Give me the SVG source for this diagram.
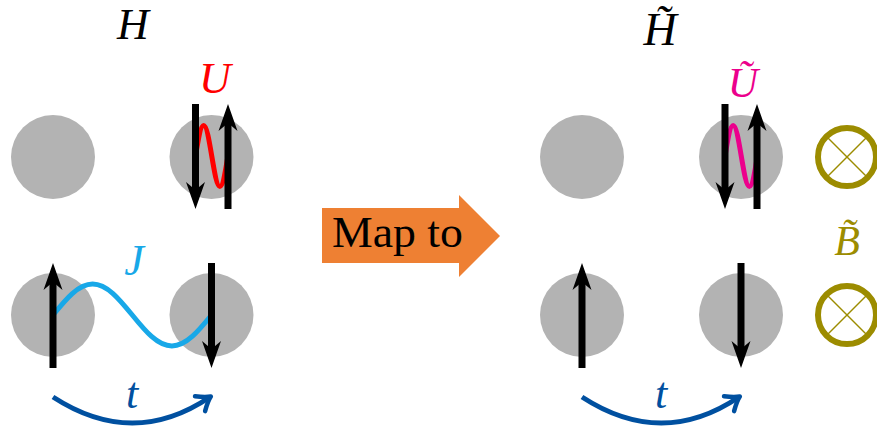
<svg xmlns="http://www.w3.org/2000/svg" width="877" height="434" viewBox="0 0 877 434">
<style>
.site{fill:#b3b3b3}
.spin{stroke:#000;stroke-width:7;fill:none;marker-end:url(#stealth)}
.wave{fill:none;stroke-width:5;stroke-linecap:round}
.hop{fill:none;stroke:#0050a0;stroke-width:5;marker-end:url(#tohead)}
.m{font-family:"Liberation Serif","Times New Roman",serif;font-style:italic;text-anchor:middle}
.r{font-family:"Liberation Serif","Times New Roman",serif;text-anchor:middle}
.field{fill:none;stroke:#9c8c00;stroke-width:6}
.cross{stroke:#9c8c00;stroke-width:1.5}
</style>
<defs>
<marker id="stealth" markerUnits="userSpaceOnUse" markerWidth="30" markerHeight="22" viewBox="0 -11 30 22" refX="8" refY="0" orient="auto" overflow="visible">
<path d="M0,-9.5 L27,0 L0,9.5 L8,0 Z" fill="#000"/>
</marker>
<marker id="tohead" markerUnits="userSpaceOnUse" markerWidth="20" markerHeight="24" viewBox="-14 -12 20 24" refX="0" refY="0" orient="auto" overflow="visible">
<path d="M-12,-9 Q-4,-2 1,0 Q-4,2 -12,9" fill="none" stroke="#0050a0" stroke-width="4.5" stroke-linecap="round" stroke-linejoin="round"/>
</marker>
</defs>

<g id="label-H"><text class="m" x="133" y="39" font-size="44" fill="#000">H</text></g>
<g id="label-Htilde"><text class="m" x="660" y="45" font-size="46" fill="#000">H̃</text></g>

<g id="site-L1"><circle class="site" cx="53" cy="157" r="42"/></g>
<g id="site-L2"><circle class="site" cx="211.5" cy="157" r="42"/></g>
<g id="site-L3"><circle class="site" cx="53" cy="315" r="42"/></g>
<g id="site-L4"><circle class="site" cx="211.5" cy="315" r="42"/></g>
<g id="site-R1"><circle class="site" cx="582" cy="157" r="42"/></g>
<g id="site-R2"><circle class="site" cx="741" cy="157" r="42"/></g>
<g id="site-R3"><circle class="site" cx="582" cy="315" r="42"/></g>
<g id="site-R4"><circle class="site" cx="741" cy="315" r="42"/></g>

<g id="connectors">
<path class="wave" stroke="#ff0000" d="M195.5,156 C198.15,140.37 200.68,125.5 203.63,125.5 S209.1,140.37 211.75,156 S216.93,186.5 219.88,186.5 S225.35,171.63 228,156"/>
<path class="wave" stroke="#ec008c" d="M725,156 C727.65,140.37 730.18,125.5 733.13,125.5 S738.6,140.37 741.25,156 S746.43,186.5 749.38,186.5 S754.85,171.63 757.5,156"/>
<path class="wave" stroke="#18a8e8" d="M53,315 C65.92,299.12 78.28,284 92.63,284 S119.33,299.12 132.25,315 S157.54,346 171.88,346 S198.58,330.88 211.5,315"/>
<path class="spin" d="M195.5,104 L195.5,190"/>
<path class="spin" d="M228,209 L228,123"/>
<path class="spin" d="M53,368 L53,282"/>
<path class="spin" d="M211.5,263 L211.5,349"/>
<path class="spin" d="M725,104 L725,190"/>
<path class="spin" d="M757,209 L757,123"/>
<path class="spin" d="M582,368 L582,282"/>
<path class="spin" d="M741,263 L741,349"/>
<path class="hop" d="M53,397 Q133,449 210,397"/>
<path class="hop" d="M582,397 Q662,449 739,397"/>
</g>

<g id="label-U"><text class="m" x="215" y="93" font-size="44" fill="#ff0000">U</text></g>
<g id="label-Utilde"><text class="m" x="743" y="97" font-size="42" fill="#ec008c">Ũ</text></g>
<g id="label-J"><text class="m" x="134" y="275" font-size="44" fill="#18a8e8">J</text></g>
<g id="label-t-left"><text class="m" x="132" y="408" font-size="44" fill="#0050a0">t</text></g>
<g id="label-t-right"><text class="m" x="661" y="408" font-size="44" fill="#0050a0">t</text></g>
<g id="label-Btilde"><text class="m" x="847" y="255" font-size="42" fill="#9c8c00">B̃</text></g>

<g id="field-top">
<circle class="field" cx="847" cy="157" r="29"/>
<line class="cross" x1="828" y1="138" x2="866" y2="176"/>
<line class="cross" x1="866" y1="138" x2="828" y2="176"/>
</g>
<g id="field-bottom">
<circle class="field" cx="847" cy="315" r="29"/>
<line class="cross" x1="828" y1="296" x2="866" y2="334"/>
<line class="cross" x1="866" y1="296" x2="828" y2="334"/>
</g>

<g id="map-arrow">
<polygon points="322,208 459,208 459,195 500,236 459,277 459,263 322,263" fill="#ee8033"/>
<text class="r" x="397.5" y="247" font-size="44" textLength="131" lengthAdjust="spacingAndGlyphs" fill="#000">Map to</text>
</g>
</svg>
